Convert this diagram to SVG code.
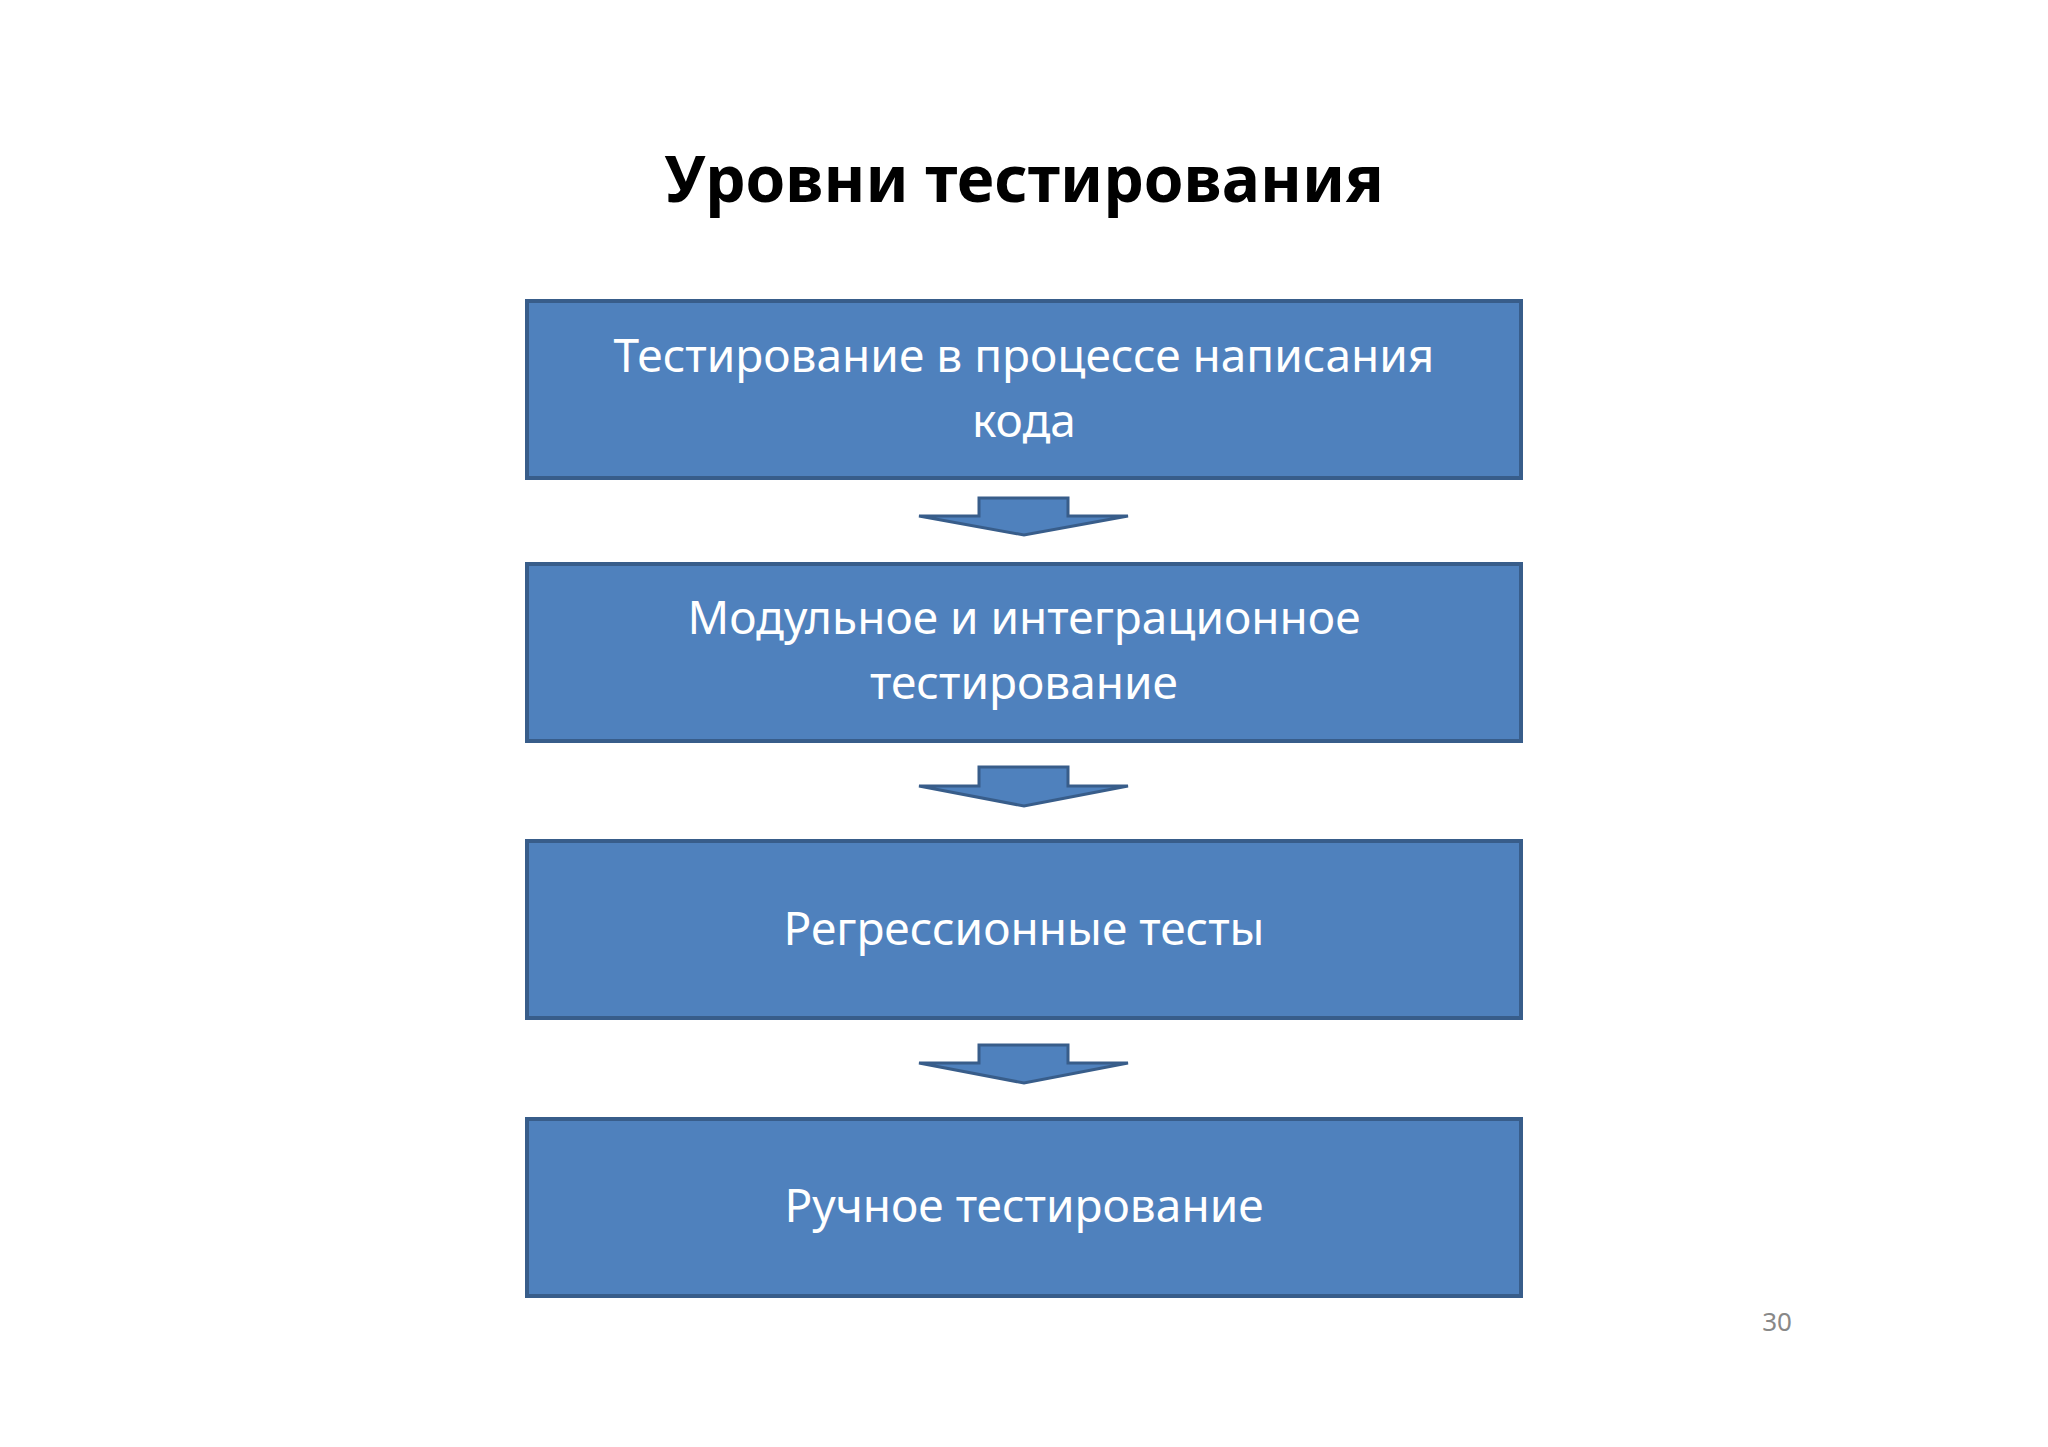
<svg xmlns="http://www.w3.org/2000/svg" width="2048" height="1447" viewBox="0 0 2048 1447">
<style>
.box{fill:#4F81BD;stroke:#385D8A;stroke-width:4}
.t{font-family:"Noto Sans","Open Sans",sans-serif;font-size:46px;fill:#fff;text-anchor:middle}
.arr{fill:#4F81BD;stroke:#385D8A;stroke-width:3}
</style>
<rect width="2048" height="1447" fill="#fff"/>
<text x="1024" y="202" font-family="Noto Sans,Open Sans,sans-serif" font-weight="bold" font-size="64" text-anchor="middle" fill="#000">Уровни тестирования</text>
<g id="n1"><rect class="box" x="527" y="301" width="994" height="177"/>
<text class="t" x="1024" y="372">Тестирование в процессе написания</text><text class="t" x="1024" y="437">кода</text></g>
<g id="n2"><rect class="box" x="527" y="564" width="994" height="177"/>
<text class="t" x="1024" y="634">Модульное и интеграционное</text><text class="t" x="1024" y="699">тестирование</text></g>
<g id="n3"><rect class="box" x="527" y="841" width="994" height="177"/>
<text class="t" x="1024" y="945">Регрессионные тесты</text></g>
<g id="n4"><rect class="box" x="527" y="1119" width="994" height="177"/>
<text class="t" x="1024" y="1222">Ручное тестирование</text></g>
<g id="connectors">
<path class="arr" d="M979 498H1068V516H1128L1024 535L919 516H979Z"/>
<path class="arr" d="M979 767H1068V786H1128L1024 806L919 786H979Z"/>
<path class="arr" d="M979 1045H1068V1063H1128L1024 1083L919 1063H979Z"/>
</g>
<text x="1777" y="1331" font-family="Noto Sans,sans-serif" font-size="26" fill="#888" text-anchor="middle">30</text>
</svg>
